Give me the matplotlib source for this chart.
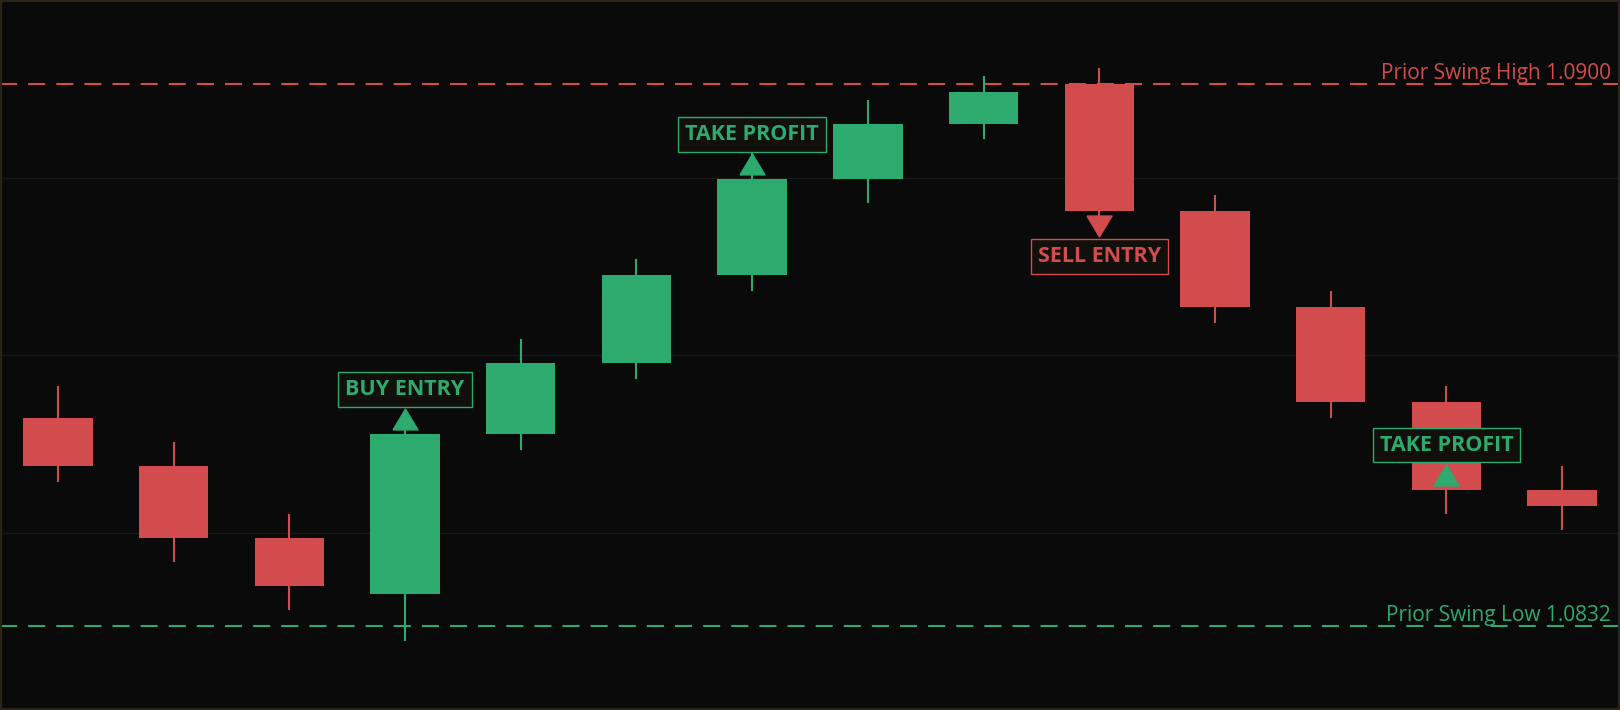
import matplotlib
matplotlib.use("Agg")
import matplotlib.pyplot as plt
import matplotlib.transforms as mtransforms
from matplotlib.patches import Rectangle
import numpy as np

plt.rcParams['font.family'] = ['Open Sans', 'DejaVu Sans']

# ---- data ----
opens  = [1.0858, 1.0852, 1.0843, 1.0836, 1.0856, 1.0865, 1.0876, 1.0888, 1.0895, 1.0900, 1.0884, 1.0872, 1.0860, 1.0849]
highs  = [1.0862, 1.0855, 1.0846, 1.0859, 1.0868, 1.0878, 1.0892, 1.0898, 1.0901, 1.0902, 1.0886, 1.0874, 1.0862, 1.0852]
lows   = [1.0850, 1.0840, 1.0834, 1.0830, 1.0854, 1.0863, 1.0874, 1.0885, 1.0893, 1.0881, 1.0870, 1.0858, 1.0846, 1.0844]
closes = [1.0852, 1.0843, 1.0837, 1.0856, 1.0865, 1.0876, 1.0888, 1.0895, 1.0899, 1.0884, 1.0872, 1.0860, 1.0849, 1.0847]

swing_high = 1.0900
swing_low = 1.0832
swing_high_label = "Prior Swing High 1.0900"
swing_low_label = "Prior Swing Low 1.0832"

signal_idx = [3, 6, 9, 12]
signal_text = ["BUY ENTRY", "TAKE PROFIT", "SELL ENTRY", "TAKE PROFIT"]
signal_dir = ["up", "up", "down", "up"]

GREEN = '#2dab6e'
RED = '#d24b4d'
BG = '#0a0a0a'
BOX_BG = '#12100d'

fig = plt.figure(figsize=(16.2, 7.1), dpi=100, facecolor=BG)
ax = fig.add_axes([0, 0, 1, 1])
ax.set_facecolor(BG)

n = len(opens)
x = np.arange(n)
ylo, yhi = 1.08214, 1.09105
ax.set_xlim(-0.5, n - 0.5)
ax.set_ylim(ylo, yhi)

# gridlines at quarters
ax.set_yticks(np.linspace(ylo, yhi, 5)[1:-1])
ax.set_xticks([])
ax.grid(axis='y', color='#1a1a1a', linewidth=1)
ax.tick_params(left=False, labelleft=False)
for s in ax.spines.values():
    s.set_visible(False)
ax.set_axisbelow(True)

w = 0.6
for i in range(n):
    o, h, l, c = opens[i], highs[i], lows[i], closes[i]
    col = GREEN if c >= o else RED
    ax.vlines(x[i], l, h, color=col, linewidth=1.5, zorder=2)
    ax.bar(x[i], abs(c - o), bottom=min(o, c), width=w, color=col, zorder=3)

# swing lines
trans = ax.get_yaxis_transform()
for price, col, lab in [(swing_high, RED, swing_high_label), (swing_low, GREEN, swing_low_label)]:
    ln = ax.axhline(price, color=col, linewidth=1.5, zorder=1)
    ln.set_dashes((8.2, 5.3))
    ax.annotate(lab, xy=(1, price), xycoords=trans, xytext=(-6.5, 3.6),
                textcoords='offset points', ha='right', va='baseline',
                color=col, fontsize=15)

# signal annotations
tri_up = [(-0.6, -0.5), (0.6, -0.5), (0.0, 0.5), (-0.6, -0.5)]
tri_dn = [(-0.6, 0.5), (0.6, 0.5), (0.0, -0.5), (-0.6, 0.5)]
for idx, txt, d in zip(signal_idx, signal_text, signal_dir):
    col = GREEN if txt != "SELL ENTRY" else RED
    anchor = closes[idx]
    sgn = 1 if d == "up" else -1
    mk = tri_up if d == "up" else tri_dn
    off = mtransforms.ScaledTranslation(0, sgn * 0.15, fig.dpi_scale_trans)
    ax.plot([x[idx]], [anchor], linestyle='none', marker=mk, markersize=18,
            color=col, zorder=5, transform=ax.transData + off)
    ax.annotate(txt, xy=(x[idx], anchor), xytext=(0, sgn * 32.4), textcoords='offset points',
                ha='center', va='center', color=col, fontsize=15.5, fontweight='bold',
                zorder=6,
                bbox=dict(boxstyle='square,pad=0.32', facecolor=BOX_BG, edgecolor=col, linewidth=1))

# figure border
fig.patches.append(Rectangle((0, 0), 1, 1, transform=fig.transFigure, fill=False,
                             edgecolor='#2a2419', linewidth=3, zorder=10))

fig.savefig('out.png', dpi=100, facecolor=BG)
